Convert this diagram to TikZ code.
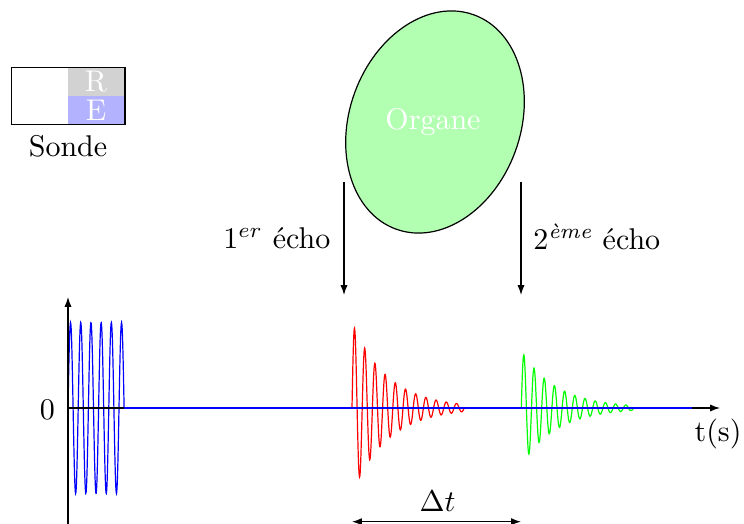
\documentclass[tikz,border=0pt]{standalone}
\usepackage{amsmath}
\usetikzlibrary{arrows.meta}
\begin{document}
\begin{tikzpicture}[x=0.33333pt,y=-0.33333pt,
  tip/.style={-{Latex[length=3.3pt,width=2.4pt]}},
  bitip/.style={{Latex[length=3.3pt,width=2.4pt]}-{Latex[length=3.3pt,width=2.4pt]}},
  lbl/.style={inner sep=0pt},
  wlbl/.style={inner sep=0pt,text=white}]
\useasboundingbox (0,0) rectangle (744,524);
% probe
\fill[gray!35] (68,67.3) rectangle (125,96);
\fill[blue!30] (68,96) rectangle (125,124.3);
\draw (11.7,67.3) rectangle (125,124.3);
\node[wlbl] (R) at (96,81.5) {R};
\node[wlbl] (E) at (96,110) {E};
\node[lbl] (sonde) at (68,146) {Sonde};
% organ
\draw[fill=green!30, rotate around={-20:(435,122)}] (435,122) ellipse [x radius=85.5, y radius=114];
\node[wlbl] (organe) at (433,122) {Organe};
% echo arrows
\coordinate (a1s) at (344,182);
\coordinate (a1e) at (344,295);
\coordinate (a2s) at (521,182);
\coordinate (a2e) at (521,295);
\draw[tip] (a1s) -- (a1e);
\draw[tip] (a2s) -- (a2e);
\node[lbl,anchor=east] (l1) at (331,238) {$1^{er}$ écho};
\node[lbl,anchor=west] (l2) at (532.7,237) {$2^{\textit{ème}}$ écho};
% emitted signal
\draw[blue] plot[domain=68:124.1, samples=200] (\x, {408 - 85.5*sin(35.294*(\x-68))});
% axes
\coordinate (O) at (68,408);
\coordinate (xend) at (720,408);
\coordinate (ybot) at (68,524);
\coordinate (ytop) at (68,297);
\draw[tip] (O) -- (xend);
\draw[tip] (ybot) -- (ytop);
\node[lbl] (zero) at (47.5,410) {0};
\node[lbl] (ts) at (718,434) {t(s)};
% echoes
\draw[red] plot[domain=352:464.2, samples=400] (\x, {408 - 85.6*exp(-0.0282*(\x-352))*sin(35.294*(\x-352))});
\draw[green] plot[domain=521.3:633.5, samples=400] (\x, {408 - 57*exp(-0.0282*(\x-521.3))*sin(35.294*(\x-521.3))});
\coordinate (b1) at (124.1,408);
\coordinate (b2) at (692,408);
\draw[blue] (b1) -- (b2);
% delta t
\coordinate (d1) at (352,521.7);
\coordinate (d2) at (521,521.7);
\draw[bitip] (d1) -- (d2);
\node[lbl] (dt) at (437.5,501.7) {$\Delta t$};
\end{tikzpicture}
\end{document}
